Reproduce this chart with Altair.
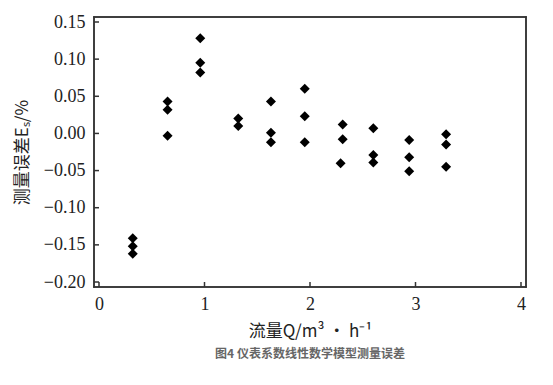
import altair as alt
import pandas as pd

# flow rate Q (m3/h) and measurement error Es (%)
flow = [0.32, 0.32, 0.32,
        0.65, 0.65, 0.65,
        0.96, 0.96, 0.96,
        1.32, 1.32,
        1.63, 1.63, 1.63,
        1.95, 1.95, 1.95,
        2.31, 2.31, 2.29,
        2.60, 2.60, 2.60,
        2.94, 2.94, 2.94,
        3.29, 3.29, 3.29]
error = [-0.141, -0.152, -0.162,
         0.043, 0.032, -0.003,
         0.128, 0.095, 0.082,
         0.020, 0.010,
         0.043, 0.001, -0.012,
         0.060, 0.023, -0.012,
         0.012, -0.008, -0.040,
         0.007, -0.029, -0.039,
         -0.009, -0.032, -0.051,
         -0.001, -0.015, -0.045]

x_ticks = [0, 1, 2, 3, 4]
y_ticks = [-0.20, -0.15, -0.10, -0.05, 0.00, 0.05, 0.10, 0.15]

df = pd.DataFrame({"Q": flow, "E": error})
xt = pd.DataFrame({"Q": x_ticks})
yt = pd.DataFrame({"E": y_ticks})
one = pd.DataFrame({"k": [0]})

W, H = 432, 270
serif = "Liberation Serif, DejaVu Serif, serif"
cjk = "Noto Sans CJK SC"
frame = "#333333"

xscale = alt.Scale(domain=[0, 4], nice=False, zero=False)
yscale = alt.Scale(domain=[-0.20, 0.15], nice=False, zero=False)

xaxis = alt.Axis(values=x_ticks, format="d", title="流量Q/m³ · h⁻¹",
                 labelPadding=8, titlePadding=10)
yaxis = alt.Axis(values=y_ticks, format=".2f", title="测量误差Eₛ/%",
                 labelPadding=9, titlePadding=12)

points = alt.Chart(df).mark_point(shape="diamond", filled=True, color="black",
                                  size=100, opacity=1).encode(
    x=alt.X("Q:Q", scale=xscale, axis=xaxis),
    y=alt.Y("E:Q", scale=yscale, axis=yaxis),
)

# inward ticks drawn as thin filled bars
xticks = alt.Chart(xt).mark_bar(size=1.5, color=frame).encode(
    x=alt.X("Q:Q", scale=xscale, axis=xaxis),
    y=alt.value(H), y2=alt.value(H - 5))

yticks = alt.Chart(yt).mark_bar(size=1.5, color=frame, orient="horizontal").encode(
    y=alt.Y("E:Q", scale=yscale, axis=yaxis),
    x=alt.value(0), x2=alt.value(5))

# frame drawn as thin filled rectangles
edges = [
    alt.Chart(one).mark_rect(color=frame).encode(
        x=alt.value(-0.75), x2=alt.value(W + 0.75),
        y=alt.value(-0.75), y2=alt.value(0.75)),
    alt.Chart(one).mark_rect(color=frame).encode(
        x=alt.value(-0.75), x2=alt.value(W + 0.75),
        y=alt.value(H - 0.75), y2=alt.value(H + 0.75)),
    alt.Chart(one).mark_rect(color=frame).encode(
        x=alt.value(-0.75), x2=alt.value(0.75),
        y=alt.value(-0.75), y2=alt.value(H + 0.75)),
    alt.Chart(one).mark_rect(color=frame).encode(
        x=alt.value(W - 0.75), x2=alt.value(W + 0.75),
        y=alt.value(-0.75), y2=alt.value(H + 0.75)),
]

chart = alt.layer(points, xticks, yticks, *edges).properties(
    width=W, height=H,
    title=alt.TitleParams("图4 仪表系数线性数学模型测量误差", orient="bottom",
                          anchor="middle", font=cjk, fontSize=12,
                          fontWeight="bold", color="#666", offset=10),
).configure(
    background="white",
    view=alt.ViewConfig(stroke=frame, strokeWidth=1.5),
    axis=alt.AxisConfig(ticks=False, grid=False, domain=False,
                        labelFont=serif, labelFontSize=18, labelColor="#222",
                        labelOverlap=False,
                        titleFont=cjk, titleFontSize=17,
                        titleFontWeight="normal", titleColor="#222"),
)

chart.save("out.html", embed_options={"renderer": "svg", "actions": False})
